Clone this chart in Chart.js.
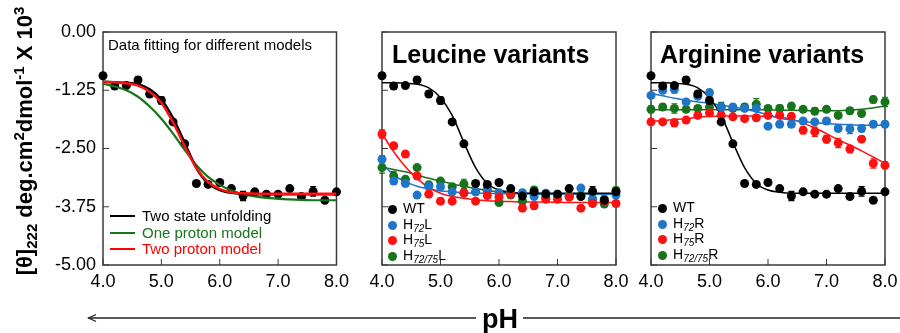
<!DOCTYPE html>
<html>
<head>
<meta charset="utf-8">
<script src="https://cdn.jsdelivr.net/npm/chart.js@4.4.1/dist/chart.umd.min.js"></script>
<style>
body { margin: 0; background: #fff; font-family: "Liberation Sans", Arial, sans-serif; color: #000; }
#wrap { position: relative; width: 900px; height: 333px; overflow: hidden; }
canvas { position: absolute; top: 0; }
.txt { position: absolute; white-space: nowrap; line-height: 1; }
.title { font-size: 25px; font-weight: bold; }
.ylab { position: absolute; left: -125px; top: 128px; width: 300px; text-align: center; font-size: 22px; font-weight: bold; line-height: 26px; transform: rotate(-90deg); white-space: nowrap; }
.ylab sub, .ylab sup { font-size: 15px; line-height: 0; }
.leg { position: absolute; font-size: 14px; }
.leg div { height: 15.6px; line-height: 15.6px; white-space: nowrap; }
.leg .dot { display: inline-block; width: 9px; height: 9px; border-radius: 50%; margin-right: 6px; vertical-align: -1px; }
.leg sub { font-size: 10px; font-style: italic; vertical-align: -3px; line-height: 0; }
.leg1 { position: absolute; left: 110px; top: 208px; font-size: 15px; }
.leg1 div { height: 16.7px; line-height: 16.7px; white-space: nowrap; }
.leg1 .ln { display: inline-block; width: 25px; height: 2px; margin-right: 7px; vertical-align: 4px; }
</style>
</head>
<body>
<div id="wrap">
  <canvas id="c1" width="355" height="300" style="left:0px"></canvas>
  <canvas id="c2" width="280" height="300" style="left:355px"></canvas>
  <canvas id="c3" width="278" height="300" style="left:630px"></canvas>

  <div class="ylab">[θ]<sub>222</sub> deg.cm<sup>2</sup>dmol<sup>-1</sup> X 10<sup>3</sup></div>

  <div class="txt" style="left:108px; top:37px; font-size:15px;">Data fitting for different models</div>
  <div class="txt title" style="left:392px; top:42px;">Leucine variants</div>
  <div class="txt title" style="left:660px; top:42px;">Arginine variants</div>

  <div class="leg1">
    <div><span class="ln" style="background:#000"></span>Two state unfolding</div>
    <div style="color:#16761a"><span class="ln" style="background:#16761a"></span>One proton model</div>
    <div style="color:#ff0000"><span class="ln" style="background:#ff0000"></span>Two proton model</div>
  </div>

  <div class="leg" style="left:388px; top:201px;">
    <div><span class="dot" style="background:#000"></span>WT</div>
    <div><span class="dot" style="background:#1f75c9"></span>H<sub>72</sub>L</div>
    <div><span class="dot" style="background:#ff1010"></span>H<sub>75</sub>L</div>
    <div><span class="dot" style="background:#18731a"></span>H<sub>72/75</sub>L</div>
  </div>
  <div class="leg" style="left:658px; top:200px;">
    <div><span class="dot" style="background:#000"></span>WT</div>
    <div><span class="dot" style="background:#1f75c9"></span>H<sub>72</sub>R</div>
    <div><span class="dot" style="background:#ff1010"></span>H<sub>75</sub>R</div>
    <div><span class="dot" style="background:#18731a"></span>H<sub>72/75</sub>R</div>
  </div>

  <svg width="900" height="333" style="position:absolute; left:0; top:0; pointer-events:none">
    <line x1="88" y1="318" x2="476" y2="318" stroke="#222" stroke-width="1.3"/>
    <polyline points="96,314.5 88.5,318 96,321.5" fill="none" stroke="#222" stroke-width="1.3"/>
    <line x1="523" y1="318" x2="900" y2="318" stroke="#222" stroke-width="1.3"/>
    <text x="500" y="328" text-anchor="middle" font-family="Liberation Sans, Arial, sans-serif" font-size="27" font-weight="bold">pH</text>
  </svg>
</div>

<script>
// measured points, pH 4.0 -> 8.0 every 0.2
const pH = [4.0, 4.2, 4.4, 4.6, 4.8, 5.0, 5.2, 5.4, 5.6, 5.8, 6.0, 6.2, 6.4, 6.6, 6.8, 7.0, 7.2, 7.4, 7.6, 7.8, 8.0];

const wt = [-0.94, -1.16, -1.15, -1.03, -1.33, -1.47, -1.93, -2.40, -3.25, -3.27, -3.23, -3.36, -3.52, -3.43, -3.48, -3.48, -3.36, -3.53, -3.42, -3.61, -3.43];
const wtErr = [0.03, 0.06, 0.04, 0.07, 0.06, 0.08, 0.04, 0.05, 0.05, 0.04, 0.04, 0.04, 0.10, 0.05, 0.04, 0.05, 0.04, 0.04, 0.10, 0.04, 0.04];

const h72L = [-2.73, -3.20, -3.25, -3.50, -3.31, -3.32, -3.43, -3.46, -3.43, -3.36, -3.45, -3.45, -3.45, -3.53, -3.46, -3.48, -3.53, -3.35, -3.58, -3.58, -3.50];
const h72LErr = [0.08, 0.07, 0.06, 0.05, 0.05, 0.05, 0.04, 0.05, 0.05, 0.05, 0.05, 0.05, 0.06, 0.05, 0.05, 0.05, 0.05, 0.05, 0.07, 0.05, 0.05];
const h75L = [-2.19, -2.44, -2.62, -3.09, -3.48, -3.63, -3.63, -3.45, -3.63, -3.51, -3.54, -3.48, -3.78, -3.73, -3.59, -3.59, -3.54, -3.78, -3.68, -3.64, -3.68];
const h75LErr = [0.09, 0.05, 0.06, 0.06, 0.07, 0.06, 0.05, 0.06, 0.05, 0.05, 0.07, 0.05, 0.07, 0.07, 0.05, 0.05, 0.06, 0.05, 0.06, 0.05, 0.06];
const h7275L = [-2.91, -3.09, -3.16, -2.91, -3.28, -3.20, -3.32, -3.26, -3.43, -3.40, -3.66, -3.50, -3.63, -3.39, -3.55, -3.50, -3.52, -3.50, -3.60, -3.69, -3.40];
const h7275LErr = [0.12, 0.10, 0.05, 0.05, 0.05, 0.05, 0.05, 0.10, 0.06, 0.05, 0.06, 0.05, 0.06, 0.06, 0.08, 0.05, 0.05, 0.05, 0.06, 0.06, 0.07];

const h72R = [-1.36, -1.25, -1.23, -1.50, -1.38, -1.30, -1.61, -1.61, -1.64, -1.64, -2.02, -1.98, -1.98, -1.91, -1.93, -1.91, -2.07, -2.08, -2.07, -1.98, -1.98];
const h72RErr = [0.06, 0.06, 0.08, 0.05, 0.05, 0.06, 0.06, 0.05, 0.05, 0.05, 0.05, 0.06, 0.06, 0.05, 0.05, 0.06, 0.06, 0.10, 0.07, 0.06, 0.06];
const h75R = [-1.93, -1.93, -1.95, -1.89, -1.79, -1.74, -1.79, -1.82, -1.86, -1.84, -1.79, -1.79, -1.81, -2.11, -2.14, -2.30, -2.38, -2.51, -2.30, -2.82, -2.86];
const h75RErr = [0.06, 0.05, 0.08, 0.06, 0.04, 0.06, 0.05, 0.05, 0.05, 0.06, 0.05, 0.05, 0.06, 0.07, 0.10, 0.08, 0.10, 0.08, 0.05, 0.10, 0.07];
const h7275R = [-1.66, -1.61, -1.64, -1.66, -1.64, -1.61, -1.61, -1.64, -1.61, -1.55, -1.64, -1.64, -1.59, -1.66, -1.70, -1.66, -1.79, -1.69, -1.75, -1.45, -1.50];
const h7275RErr = [0.07, 0.06, 0.10, 0.05, 0.05, 0.10, 0.10, 0.06, 0.07, 0.12, 0.05, 0.07, 0.06, 0.06, 0.07, 0.05, 0.06, 0.07, 0.06, 0.07, 0.10];

// fitted curves
const fitPH = [4.0, 4.2, 4.4, 4.6, 4.8, 5.0, 5.2, 5.4, 5.6, 5.8, 6.0, 6.2, 6.4, 6.8, 7.2, 7.6, 8.0];
const twoStateFit  = [-1.07, -1.08, -1.09, -1.12, -1.23, -1.45, -1.85, -2.38, -2.92, -3.25, -3.39, -3.45, -3.47, -3.48, -3.48, -3.48, -3.48];
const oneProtonFit = [-1.11, -1.17, -1.25, -1.39, -1.60, -1.86, -2.18, -2.53, -2.86, -3.11, -3.28, -3.40, -3.48, -3.56, -3.59, -3.61, -3.61];
const twoProtonFit = [-1.07, -1.08, -1.10, -1.15, -1.28, -1.52, -1.94, -2.45, -2.92, -3.22, -3.37, -3.44, -3.46, -3.47, -3.47, -3.47, -3.47];
const wtFit    = [-1.09, -1.09, -1.10, -1.12, -1.20, -1.41, -1.79, -2.37, -2.91, -3.25, -3.39, -3.44, -3.46, -3.46, -3.46, -3.46, -3.46];
const h72LFit  = [-2.82, -3.07, -3.21, -3.31, -3.37, -3.41, -3.43, -3.45, -3.46, -3.46, -3.47, -3.47, -3.47, -3.48, -3.48, -3.48, -3.48];
const h75LFit  = [-2.18, -2.57, -2.89, -3.14, -3.34, -3.46, -3.53, -3.57, -3.60, -3.62, -3.63, -3.64, -3.65, -3.65, -3.66, -3.66, -3.66];
const h7275LFit = [-2.90, -2.95, -3.00, -3.07, -3.14, -3.20, -3.26, -3.31, -3.36, -3.40, -3.43, -3.45, -3.46, -3.47, -3.48, -3.48, -3.48];
const h72RFit  = [-1.32, -1.37, -1.42, -1.46, -1.50, -1.53, -1.57, -1.61, -1.66, -1.71, -1.78, -1.85, -1.89, -1.95, -1.98, -2.00, -2.00];
const h75RFit  = [-1.92, -1.90, -1.88, -1.86, -1.83, -1.81, -1.80, -1.80, -1.80, -1.80, -1.81, -1.83, -1.87, -2.06, -2.31, -2.55, -2.82];
const h7275RFit = [-1.67, -1.67, -1.67, -1.67, -1.67, -1.67, -1.67, -1.67, -1.67, -1.67, -1.67, -1.68, -1.68, -1.69, -1.69, -1.66, -1.59];

const BLACK = '#000000', BLUE = '#1f75c9', RED = '#ff1010', GREEN = '#18731a';

Chart.defaults.font.family = '"Liberation Sans", Arial, sans-serif';
Chart.defaults.color = '#000';

const pts = (xs, ys) => xs.map((x, i) => ({ x: x, y: ys[i] }));

function dots(ys, err, color) {
    return { type: 'scatter', data: pts(pH, ys), err: err, backgroundColor: color, borderWidth: 0,
             pointRadius: 4.5, clip: false };
}
function curve(ys, color, w) {
    return { type: 'line', data: pts(fitPH, ys), borderColor: color, borderWidth: w, pointRadius: 0,
             cubicInterpolationMode: 'monotone', fill: false };
}

// error bars under the points, inward ticks and the box round the plot
const panelDeco = {
    id: 'panelDeco',
    beforeDatasetsDraw(chart) {
        const { ctx, scales: { x, y } } = chart;
        ctx.save();
        ctx.lineWidth = 1.2;
        chart.data.datasets.forEach(ds => {
            if (!ds.err) return;
            ctx.strokeStyle = ds.backgroundColor;
            ds.data.forEach((p, i) => {
                const px = x.getPixelForValue(p.x);
                const y1 = y.getPixelForValue(p.y + ds.err[i]);
                const y2 = y.getPixelForValue(p.y - ds.err[i]);
                ctx.beginPath();
                ctx.moveTo(px, y1); ctx.lineTo(px, y2);
                ctx.moveTo(px - 3, y1); ctx.lineTo(px + 3, y1);
                ctx.moveTo(px - 3, y2); ctx.lineTo(px + 3, y2);
                ctx.stroke();
            });
        });
        ctx.restore();
    },
    beforeDraw(chart) {
        const { ctx, chartArea: a, scales: { x, y } } = chart;
        ctx.save();
        ctx.strokeStyle = '#3a3a3a';
        ctx.lineWidth = 1;
        ctx.beginPath();
        y.ticks.forEach(t => {
            const p = y.getPixelForValue(t.value);
            ctx.moveTo(a.left, p); ctx.lineTo(a.left + 6, p);
        });
        x.ticks.forEach(t => {
            const p = x.getPixelForValue(t.value);
            ctx.moveTo(p, a.bottom); ctx.lineTo(p, a.bottom - 6);
        });
        ctx.stroke();
        ctx.lineWidth = 1.5;
        ctx.strokeRect(a.left, a.top, a.right - a.left, a.bottom - a.top);
        ctx.restore();
    }
};

function makeChart(id, datasets, yWidth, padR, showY) {
    return new Chart(document.getElementById(id), {
        data: { datasets: datasets },
        options: {
            responsive: false,
            animation: false,
            layout: { padding: { top: 32, right: padR, left: 0, bottom: 0 } },
            plugins: { legend: { display: false }, tooltip: { enabled: false } },
            scales: {
                x: {
                    type: 'linear', min: 4, max: 8,
                    grid: { display: false, drawTicks: false },
                    border: { display: false },
                    ticks: { stepSize: 1, padding: 6, maxRotation: 0, font: { size: 18 }, color: '#000',
                             callback: v => v.toFixed(1) },
                    afterFit: s => { s.height = 35; }
                },
                y: {
                    min: -5, max: 0,
                    grid: { display: false, drawTicks: false },
                    border: { display: false },
                    ticks: { display: showY, stepSize: 1.25, padding: 7, font: { size: 18 }, color: '#000',
                             callback: v => v.toFixed(2) },
                    afterFit: s => { s.width = yWidth; }
                }
            }
        },
        plugins: [panelDeco]
    });
}

makeChart('c1', [
    curve(twoProtonFit, RED, 2.5),
    curve(twoStateFit, BLACK, 2.5),
    curve(oneProtonFit, GREEN, 2.2),
    dots(wt, wtErr, BLACK)
], 103, 18, true);

makeChart('c2', [
    dots(wt, wtErr, BLACK),
    dots(h75L, h75LErr, RED),
    dots(h72L, h72LErr, BLUE),
    dots(h7275L, h7275LErr, GREEN),
    curve(wtFit, BLACK, 1.5),
    curve(h75LFit, RED, 1.5),
    curve(h72LFit, BLUE, 1.5),
    curve(h7275LFit, GREEN, 1.5)
], 27, 19, false);

makeChart('c3', [
    dots(wt, wtErr, BLACK),
    dots(h72R, h72RErr, BLUE),
    dots(h75R, h75RErr, RED),
    dots(h7275R, h7275RErr, GREEN),
    curve(wtFit, BLACK, 1.5),
    curve(h72RFit, BLUE, 1.5),
    curve(h75RFit, RED, 1.5),
    curve(h7275RFit, GREEN, 1.5)
], 21, 23, false);
</script>
</body>
</html>
